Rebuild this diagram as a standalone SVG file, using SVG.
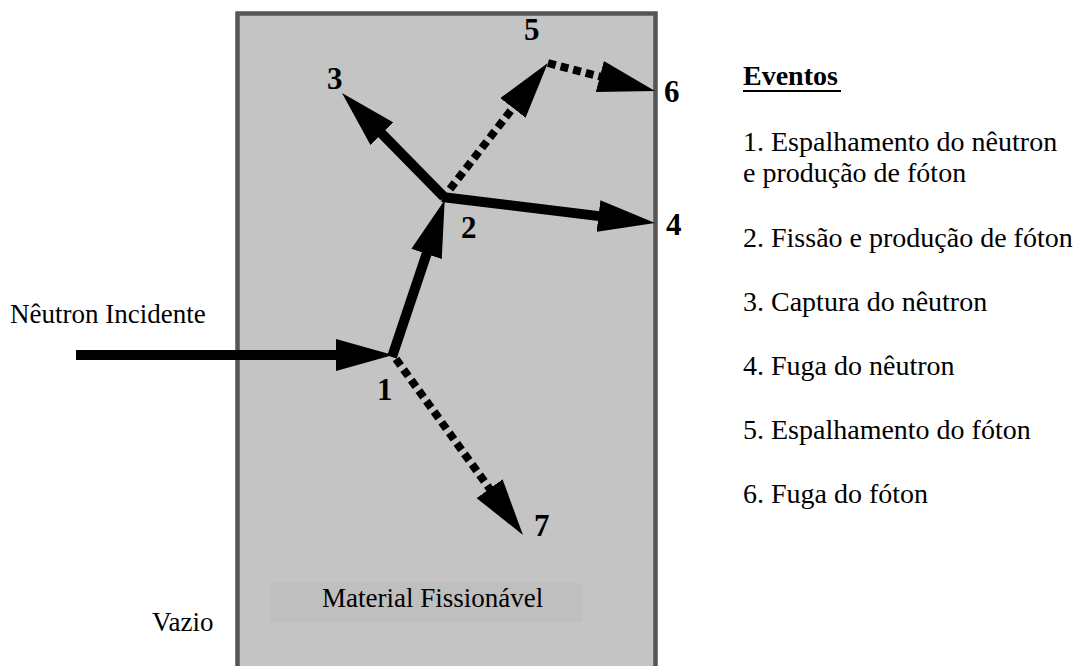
<svg xmlns="http://www.w3.org/2000/svg" width="1089" height="666" viewBox="0 0 1089 666">
  <style>
    text { font-family: "Liberation Serif", "Times New Roman", serif; fill: #000; }
    .lbl { font-size: 27px; }
    .leg { font-size: 28px; }
    .num { font-size: 31px; font-weight: bold; }
    .solid { stroke: #000; stroke-width: 10; fill: none; marker-end: url(#head); }
    .dotted { stroke: #000; stroke-width: 8; stroke-dasharray: 8 5; fill: none; marker-end: url(#head); }
  </style>
  <defs>
    <marker id="head" viewBox="0 0 57 32" refX="7" refY="16" markerWidth="57" markerHeight="32" markerUnits="userSpaceOnUse" orient="auto">
      <path d="M0,0 L57,16 L0,32 z" fill="#000"/>
    </marker>
  </defs>
  <rect width="1089" height="666" fill="#fff"/>

  <g id="material">
    <rect x="237.5" y="13.5" width="418" height="700" fill="#c4c4c4" stroke="#555" stroke-width="4.5"/>
    <rect x="270" y="583" width="312" height="39" fill="#bfbfbf"/>
    <text class="lbl" x="322" y="607">Material Fissionável</text>
  </g>

  <g id="vazio">
    <text class="lbl" x="152" y="631">Vazio</text>
  </g>

  <g id="incidente">
    <text class="lbl" x="10" y="323">Nêutron Incidente</text>
  </g>

  <g id="connectors">
    <line class="solid" x1="76" y1="355" x2="343" y2="355"/>
    <line class="solid" x1="392" y1="357" x2="428.8" y2="247.3"/>
    <line class="solid" x1="444" y1="197" x2="377" y2="128.7"/>
    <line class="solid" x1="442" y1="197" x2="605.4" y2="216.9"/>
    <line class="dotted" x1="450" y1="189" x2="517.2" y2="102.4"/>
    <line class="dotted" x1="548" y1="63" x2="606.6" y2="78.3"/>
    <line class="dotted" x1="396" y1="359" x2="493.7" y2="494.4"/>
  </g>

  <g id="n1"><text class="num" x="377" y="400">1</text></g>
  <g id="n2"><text class="num" x="461" y="238">2</text></g>
  <g id="n3"><text class="num" x="327" y="89">3</text></g>
  <g id="n4"><text class="num" x="666" y="235">4</text></g>
  <g id="n5"><text class="num" x="524" y="40">5</text></g>
  <g id="n6"><text class="num" x="664" y="102">6</text></g>
  <g id="n7"><text class="num" x="534" y="536">7</text></g>

  <g id="legenda">
    <text class="leg" x="743" y="85" font-weight="bold">Eventos</text>
    <rect x="743" y="90" width="98" height="2" fill="#000"/>
    <text class="leg" x="743" y="151">1. Espalhamento do nêutron</text>
    <text class="leg" x="743" y="182">e produção de fóton</text>
    <text class="leg" x="743" y="247">2. Fissão e produção de fóton</text>
    <text class="leg" x="743" y="311">3. Captura do nêutron</text>
    <text class="leg" x="743" y="375">4. Fuga do nêutron</text>
    <text class="leg" x="743" y="439">5. Espalhamento do fóton</text>
    <text class="leg" x="743" y="503">6. Fuga do fóton</text>
  </g>
</svg>
